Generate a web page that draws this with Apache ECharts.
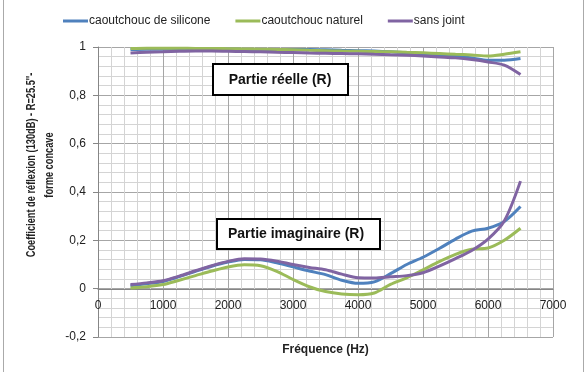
<!DOCTYPE html>
<html>
<head>
<meta charset="utf-8">
<script src="https://cdn.jsdelivr.net/npm/echarts@6/dist/echarts.min.js"></script>
<style>
html, body { margin: 0; padding: 0; background: #fff; }
#main { width: 588px; height: 372px; }
</style>
</head>
<body>
<div id="main"></div>
<script>
// frequences (Hz)
var freq = [500, 750, 1000, 1250, 1500, 1750, 2000, 2250, 2500, 2750, 3000, 3250, 3500,
            3750, 4000, 4250, 4500, 4750, 5000, 5250, 5500, 5750, 6000, 6250, 6500];

var seriesNames = ['caoutchouc de silicone', 'caoutchouc naturel', 'sans joint'];
var colors = ['#4F81BD', '#9BBB59', '#8064A2'];

// partie reelle
var reSilicone = [0.990, 0.991, 0.991, 0.991, 0.991, 0.991, 0.991, 0.990, 0.990, 0.990, 0.990, 0.990, 0.989,
                  0.987, 0.985, 0.983, 0.980, 0.976, 0.972, 0.967, 0.962, 0.955, 0.945, 0.945, 0.952];
var reNaturel = [0.994, 0.995, 0.995, 0.995, 0.994, 0.994, 0.993, 0.992, 0.991, 0.990, 0.989, 0.987, 0.985,
                 0.983, 0.982, 0.981, 0.980, 0.978, 0.976, 0.973, 0.970, 0.967, 0.963, 0.970, 0.980];
var reSansJoint = [0.975, 0.978, 0.980, 0.982, 0.983, 0.983, 0.982, 0.981, 0.980, 0.978, 0.977, 0.975, 0.974,
                   0.973, 0.972, 0.970, 0.968, 0.966, 0.963, 0.959, 0.955, 0.948, 0.938, 0.925, 0.886];

// partie imaginaire
var imSilicone = [0.012, 0.020, 0.030, 0.050, 0.072, 0.093, 0.110, 0.121, 0.120, 0.107, 0.090, 0.073, 0.058,
                  0.035, 0.022, 0.028, 0.062, 0.100, 0.130, 0.166, 0.205, 0.238, 0.250, 0.278, 0.340];
var imNaturel = [0.003, 0.008, 0.017, 0.035, 0.054, 0.073, 0.090, 0.099, 0.095, 0.072, 0.038, 0.008, -0.012,
                 -0.022, -0.025, -0.018, 0.018, 0.045, 0.078, 0.112, 0.142, 0.163, 0.168, 0.200, 0.250];
var imSansJoint = [0.017, 0.024, 0.033, 0.052, 0.074, 0.095, 0.113, 0.124, 0.123, 0.114, 0.100, 0.088, 0.078,
                   0.060, 0.045, 0.044, 0.049, 0.054, 0.066, 0.093, 0.124, 0.158, 0.205, 0.280, 0.445];

function pairs(vals) {
    return freq.map(function (f, i) { return [f, vals[i]]; });
}

function line(idx, vals) {
    return {
        name: seriesNames[idx],
        type: 'line',
        smooth: 0.3,
        symbol: 'none',
        color: colors[idx],
        lineStyle: { width: 3, color: colors[idx] },
        data: pairs(vals)
    };
}

var font = 'Liberation Sans, Arial, sans-serif';

var myChart = echarts.init(document.getElementById('main'));
myChart.setOption({
    backgroundColor: '#fff',
    animation: false,
    textStyle: { fontFamily: font },
    legend: {
        data: seriesNames,
        top: 10,
        left: 58,
        icon: 'rect',
        itemWidth: 25,
        itemHeight: 3,
        itemGap: 25,
        textStyle: { fontSize: 12, color: '#222', fontFamily: font, padding: [0, 0, 0, -4] }
    },
    grid: { left: 98, right: 35, top: 47, bottom: 35, outerBoundsMode: 'none', containLabel: false },
    xAxis: {
        type: 'value',
        min: 0, max: 7000, interval: 1000,
        name: 'Fréquence (Hz)',
        nameLocation: 'middle',
        nameGap: 55,
        nameTextStyle: { fontWeight: 'bold', fontSize: 12, color: '#222' },
        // l'axe horizontal croise a y = 0 (decalage vers l'interieur de la grille)
        offset: -48,
        axisLine: { onZero: false, lineStyle: { color: '#868686' } },
        axisTick: { show: false },
        axisLabel: { fontSize: 12, color: '#222', margin: 11, formatter: function (v) { return String(v); } },
        splitLine: { show: true, lineStyle: { color: '#a6a6a6', width: 1 } },
        minorTick: { show: false, splitNumber: 5 },
        minorSplitLine: { show: true, lineStyle: { color: '#d4d4d4', width: 1 } }
    },
    yAxis: {
        type: 'value',
        min: -0.2, max: 1, interval: 0.2,
        axisLine: { show: true, lineStyle: { color: '#868686' } },
        axisTick: { show: true, length: 5, lineStyle: { color: '#868686' } },
        axisLabel: {
            fontSize: 12, color: '#222', margin: 12,
            formatter: function (v) { return (Math.round(v * 10) / 10).toString().replace('.', ','); }
        },
        splitLine: { show: true, lineStyle: { color: '#a6a6a6', width: 1 } },
        minorTick: { show: false, splitNumber: 5 },
        minorSplitLine: { show: true, lineStyle: { color: '#d4d4d4', width: 1 } }
    },
    series: [
        line(0, reSilicone),
        line(1, reNaturel),
        line(2, reSansJoint),
        line(0, imSilicone),
        line(1, imNaturel),
        line(2, imSansJoint)
    ],
    graphic: [
        { type: 'line', z: 100, shape: { x1: 3.5, y1: 0, x2: 3.5, y2: 372 }, style: { stroke: '#aaa', lineWidth: 1 } },
        { type: 'line', z: 100, shape: { x1: 583.5, y1: 0, x2: 583.5, y2: 372 }, style: { stroke: '#aaa', lineWidth: 1 } },
        {
            type: 'text', z: 100, x: 41, y: 165, rotation: Math.PI / 2, scaleX: 0.74,
            style: {
                text: "Coefficient de réflexion (130dB) - R=25.5''-\nforme concave",
                font: 'bold 12.5px "Liberation Sans", sans-serif',
                fill: '#222', align: 'center', verticalAlign: 'middle', lineHeight: 18
            }
        },
        { type: 'rect', z: 100, shape: { x: 213, y: 64, width: 135, height: 31 },
          style: { fill: '#fff', stroke: '#000', lineWidth: 2 } },
        { type: 'text', z: 101, x: 280, y: 80,
          style: { text: 'Partie réelle (R)', font: 'bold 14px "Liberation Sans", sans-serif',
                   fill: '#111', align: 'center', verticalAlign: 'middle' } },
        { type: 'rect', z: 100, shape: { x: 217, y: 219, width: 163, height: 30 },
          style: { fill: '#fff', stroke: '#000', lineWidth: 2 } },
        { type: 'text', z: 101, x: 296, y: 234,
          style: { text: 'Partie imaginaire (R)', font: 'bold 14px "Liberation Sans", sans-serif',
                   fill: '#111', align: 'center', verticalAlign: 'middle' } }
    ]
});
</script>
</body>
</html>
